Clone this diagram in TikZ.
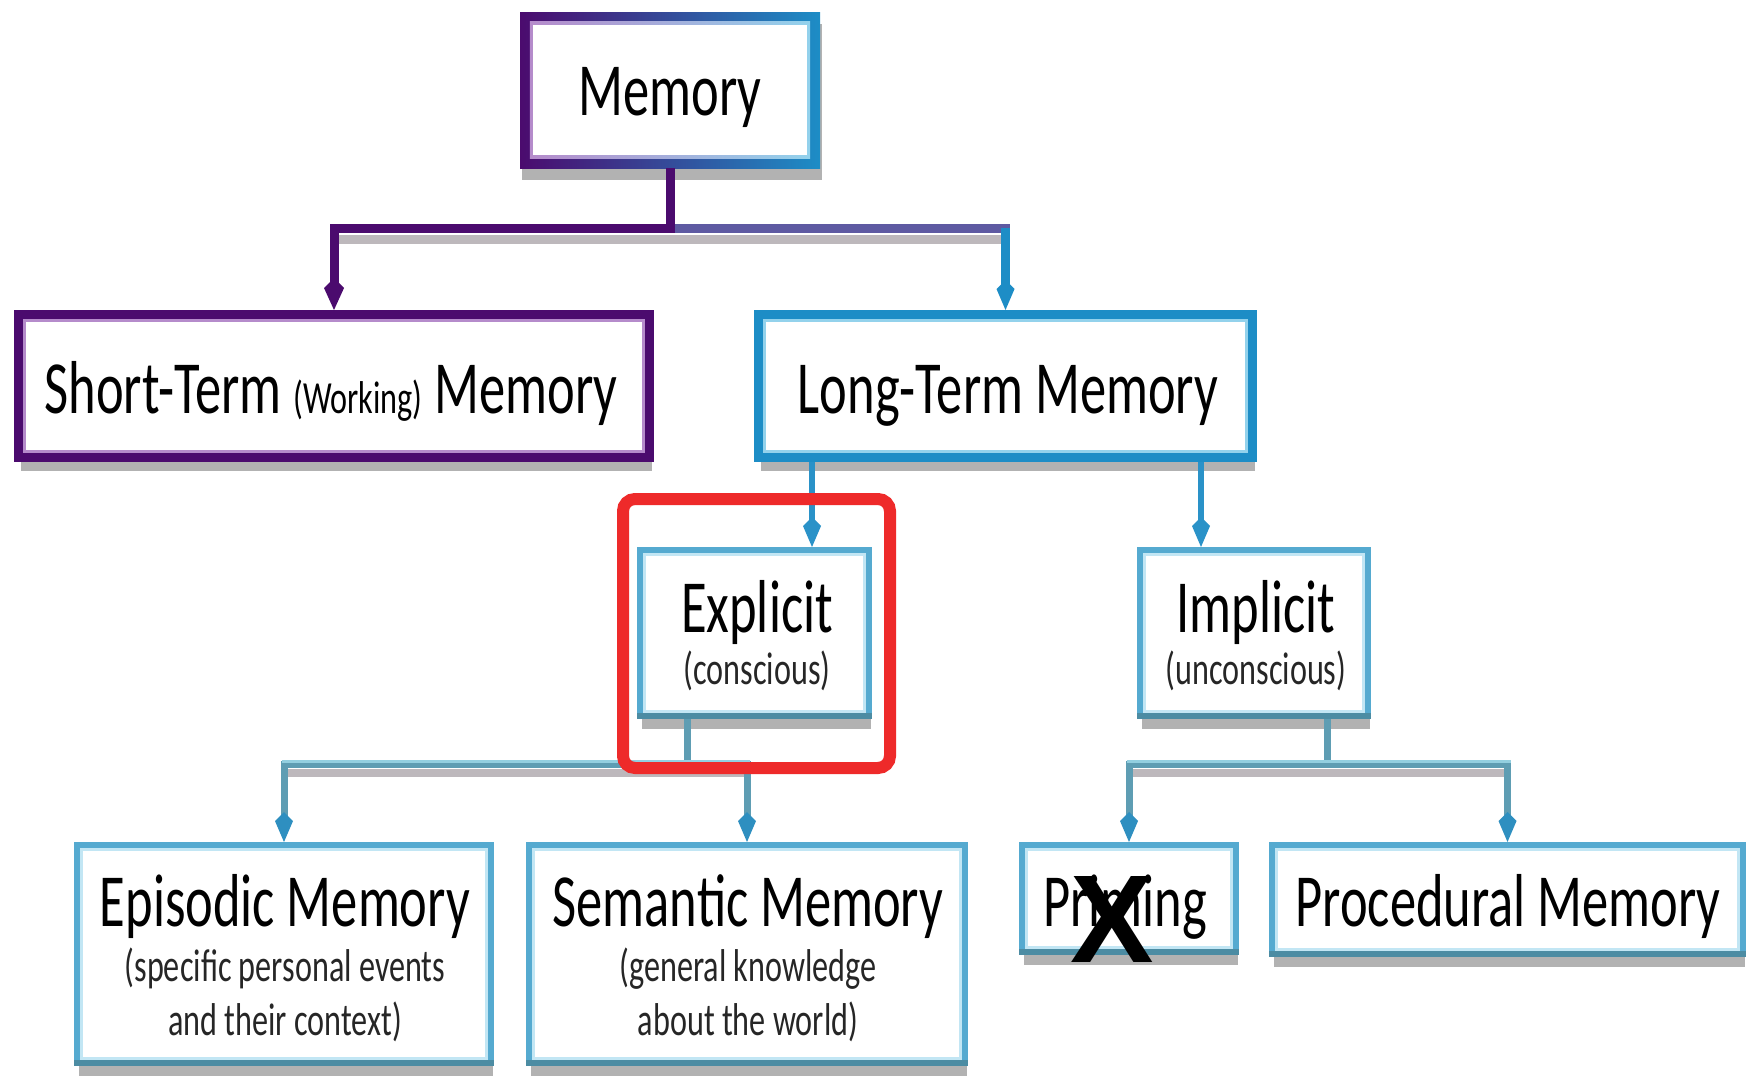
\documentclass[tikz,border=0pt]{standalone}
\usepackage{fontspec}
\setmainfont{Carlito}[FakeStretch=0.7]
\newfontfamily\xfont{Liberation Sans}
\usetikzlibrary{arrows.meta,shadows,calc}

\definecolor{pd}{HTML}{4B0B6E}
\definecolor{pl}{HTML}{B58BCB}
\definecolor{bd}{HTML}{1D8DC6}
\definecolor{bl}{HTML}{93D2EC}
\definecolor{cd}{HTML}{55AAD0}
\definecolor{cl}{HTML}{C2E6F4}
\definecolor{ct}{HTML}{4C8CA3}
\definecolor{hlred}{HTML}{EE2A2A}
\definecolor{midc}{HTML}{5E5AA2}
\definecolor{lc}{HTML}{2A92C8}
\definecolor{cc}{HTML}{5E9DB3}
\definecolor{ccl}{HTML}{93CFE0}
\definecolor{tipc}{HTML}{2E8FC0}
\definecolor{shd}{HTML}{BDB8BC}

\newcommand{\bigf}{\fontsize{75}{80}\selectfont}
\newcommand{\smf}{\fontsize{46}{50}\selectfont}
\newcommand{\bevel}[3]{\draw[#2, line width=3pt] ([shift={(#3,-#3)}]#1.south west) rectangle ([shift={(-#3,#3)}]#1.north east);}
\newcommand{\bottomband}[1]{\draw[ct, line width=6pt] ([shift={(0,-3)}]#1.south west) -- ([shift={(0,-3)}]#1.south east);}

\begin{document}
\begin{tikzpicture}[x=1pt,y=-1pt,
  box/.style={draw, fill=white, inner sep=0pt, line join=miter,
    drop shadow={shadow xshift=2pt, shadow yshift=-13pt, fill=black!60, opacity=0.5}},
  pbox/.style={box, draw=pd, line width=9pt},
  bbox/.style={box, draw=bd, line width=9pt},
  cbox/.style={box, draw=cd, line width=6pt},
  memb/.style={inner sep=0pt, left color=pd, right color=bd,
    drop shadow={shadow xshift=2pt, shadow yshift=-12pt, fill=black!60, opacity=0.5}},
  txt/.style={anchor=base, inner sep=0pt, font=\bigf},
  sub/.style={anchor=base, inner sep=0pt, font=\smf, text=black!85},
  ptip/.style={-{Kite[width=20pt,length=32pt,inset=10pt]}},
  btip/.style={-{Kite[width=18pt,length=30pt,inset=9pt]}},
  ctip/.style={-{Kite[width=18pt,length=30pt,inset=9pt,color=tipc]}},
  pcon/.style={line width=9pt, pd, line join=miter},
  lcon/.style={line width=6pt, lc, line join=miter},
  ccon/.style={line width=7pt, cc, line join=miter},
  barshadow/.style={line width=9pt, shd},
  redbox/.style={draw=hlred, line width=12pt, rounded corners=12pt, inner sep=0pt},
  xmark/.style={anchor=base, inner sep=0pt, font=\fontsize{125}{125}\selectfont\xfont\bfseries}
]
\useasboundingbox (0,0) rectangle (1749,1076);
\fill[white] (0,0) rectangle (1749,1076);

% boxes
\node[memb, minimum width=300pt, minimum height=156pt] (mem) at (670,90) {};
\shade[left color=pl, right color=bl] ([shift={(10,-10)}]mem.south west) rectangle ([shift={(-10,10)}]mem.north east);
\fill[white] ([shift={(13,-13)}]mem.south west) rectangle ([shift={(-13,13)}]mem.north east);

\node[pbox, minimum width=631pt, minimum height=143pt] (stm) at (334,386) {};
\node[bbox, minimum width=494pt, minimum height=143pt] (ltm) at (1005.5,386) {};
\node[cbox, minimum width=229pt, minimum height=166pt] (expl) at (754.5,633) {};
\node[cbox, minimum width=228pt, minimum height=166pt] (impl) at (1254,633) {};
\node[cbox, minimum width=414pt, minimum height=218pt] (epi) at (284,954) {};
\node[cbox, minimum width=436pt, minimum height=218pt] (sem) at (747,954) {};
\node[cbox, minimum width=214pt, minimum height=107pt] (prim) at (1129,898.5) {};
\node[cbox, minimum width=471pt, minimum height=109pt] (proc) at (1507.5,899.5) {};

\bevel{stm}{pl}{10.5}
\bevel{ltm}{bl}{10.5}
\foreach \n in {expl,impl,epi,sem,prim,proc}{\bevel{\n}{cl}{7.5}\bottomband{\n}}

% texts
\node[txt] (tmem) at (670,115) {Memory};
\node[txt] (tstm) at (331,413) {Short-Term {\smf (Working)} Memory};
\node[txt] (tltm) at (1008,413) {Long-Term Memory};
\node[txt] (texp) at (757,632) {Explicit};
\node[sub] (sexp) at (757,684) {(conscious)};
\node[txt] (timp) at (1256,632) {Implicit};
\node[sub] (simp) at (1256,684) {(unconscious)};
\node[txt] (tepi) at (285,926) {Episodic Memory};
\node[sub] (sepi1) at (285,981) {(specific personal events};
\node[sub] (sepi2) at (285,1035) {and their context)};
\node[txt] (tsem) at (748,926) {Semantic Memory};
\node[sub] (ssem1) at (748,981) {(general knowledge};
\node[sub] (ssem2) at (748,1035) {about the world)};
\node[txt] (tprim) at (1125,926) {Priming};
\node[txt] (tproc) at (1508,926) {Procedural Memory};

% connectors
\coordinate (b1) at (0,228);
\coordinate (b2) at (0,764);
\coordinate (e1) at (812,0);
\coordinate (i1) at (1201,0);
\coordinate (e2) at (687,0);
\coordinate (i2) at (1327,0);

% shadows under the horizontal bars
\draw[barshadow] ($(stm.north |- b1)+(5,11)$) -- ($(ltm.north |- b1)+(4,11)$);
\draw[barshadow, line width=8pt] ($(epi.north |- b2)+(4,9)$) -- ($(sem.north |- b2)+(3,9)$);
\draw[barshadow, line width=8pt] ($(prim.north |- b2)+(4,9)$) -- ($(proc.north |- b2)+(3,9)$);

\draw[line width=9pt, midc, line cap=rect] (mem.south |- b1) -- (ltm.north |- b1);
\draw[line width=9pt, bd, btip] (ltm.north |- b1) -- (ltm.north);
\draw[pcon, ptip] (mem.south) -- (mem.south |- b1) -| (stm.north);

\draw[lcon, btip] (ltm.south -| e1) -- (expl.north -| e1);
\draw[lcon, btip] (ltm.south -| i1) -- (impl.north -| i1);

\draw[ccon, ctip] (expl.south -| e2) -- (e2 |- b2) -| (epi.north);
\draw[ccon, ctip] (e2 |- b2) -| (sem.north);
\draw[ccon, ctip] (impl.south -| i2) -- (i2 |- b2) -| (prim.north);
\draw[ccon, ctip] (i2 |- b2) -| (proc.north);
% light top edge of the lower bars
\draw[ccl, line width=3pt] ($(epi.north |- b2)+(-2,-3)$) -- ($(sem.north |- b2)+(3,-3)$);
\draw[ccl, line width=3pt] ($(prim.north |- b2)+(-2,-3)$) -- ($(proc.north |- b2)+(3,-3)$);

% highlight and mark
\node[redbox, minimum width=267pt, minimum height=269pt] (hl) at (756.5,633.5) {};
\node[xmark] (xm) at (1112,962) {X};
\end{tikzpicture}
\end{document}
